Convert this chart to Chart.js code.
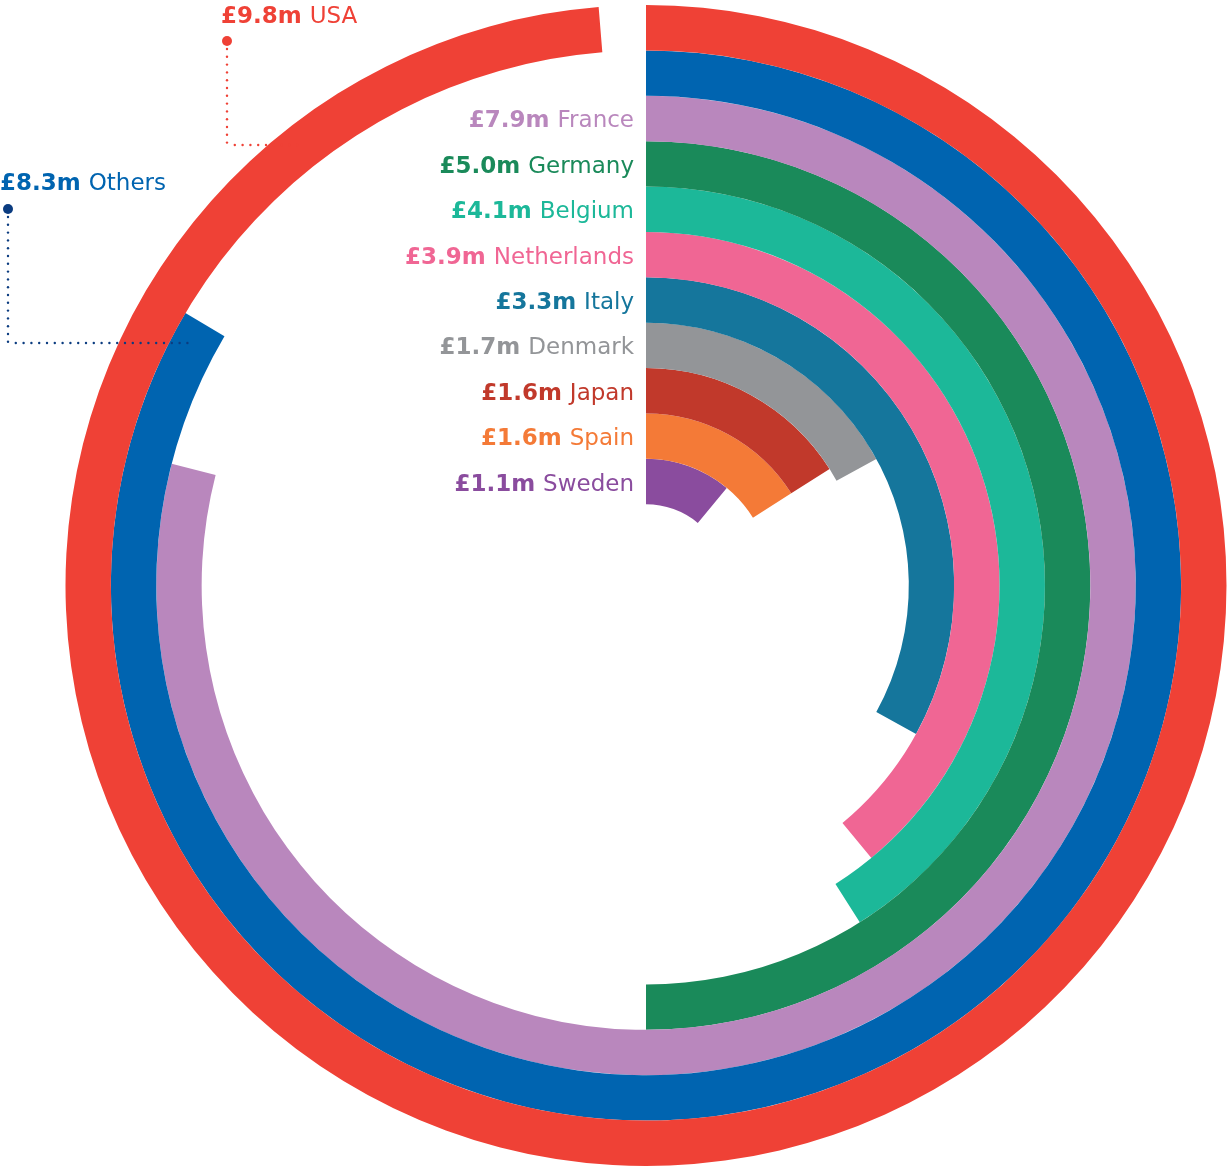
<!DOCTYPE html>
<html lang="en">
<head>
  <meta charset="UTF-8">
  <title>Revenue by country</title>
  <script src="https://cdn.jsdelivr.net/npm/chart.js"></script>
  <style>
    body { margin: 0; background: #fff; }
    #ringChart { display: block; }
  </style>
</head>
<body>
  <canvas id="ringChart" width="1230" height="1167"></canvas>

  <script>
    // outermost ring first
    const countries = ["USA", "Others", "France", "Germany", "Belgium", "Netherlands", "Italy", "Denmark", "Japan", "Spain", "Sweden"];
    const amounts = [9.87, 8.35, 7.9, 5.0, 4.1, 3.9, 3.3, 1.7, 1.6, 1.6, 1.1];   // £m
    const ringColors = ["#ef4136", "#0064b0", "#b987bd", "#1a8a5a", "#1cb899", "#f06694", "#15769c", "#939598", "#c1392b", "#f47a37", "#8a4c9e"];
    const fullCircle = 10;   // £10m = one full turn

    const fontFamily = "'DejaVu Sans', sans-serif";

    function money(v) {
      return "£" + (Math.floor(v * 10 + 1e-6) / 10).toFixed(1) + "m";
    }

    const datasets = countries.map((name, i) => ({
      label: name,
      data: [amounts[i], fullCircle - amounts[i]],
      backgroundColor: [ringColors[i], "rgba(0,0,0,0)"],
      borderWidth: 0,
      hoverOffset: 0
    }));

    // draws the country labels, and the leader lines for the two outer rings
    const ringLabels = {
      id: "ringLabels",
      afterDraw(chart) {
        const ctx = chart.ctx;
        ctx.save();
        ctx.textBaseline = "middle";

        chart.data.datasets.forEach((ds, i) => {
          const arc = chart.getDatasetMeta(i).data[0];
          const cx = arc.x, cy = arc.y;
          const rMid = (arc.outerRadius + arc.innerRadius) / 2;
          const color = ringColors[i];
          const amountText = money(amounts[i]) + " ";

          let x, y, align;
          if (i < 2) {
            // outer rings: label sits outside, with a dotted leader
            const spot = i === 0 ? { x: 221, y: 17, dotX: 227, dotY: 41, lineY: 145, dot: "#ef4136" }
                                 : { x: 0, y: 184, dotX: 8, dotY: 209, lineY: 343, dot: "#0b3c80" };
            x = spot.x; y = spot.y; align = "left";

            const dy = spot.lineY - cy;
            const endX = cx - Math.sqrt(rMid * rMid - dy * dy);
            ctx.fillStyle = spot.dot;
            ctx.beginPath();
            ctx.arc(spot.dotX, spot.dotY, 5, 0, Math.PI * 2);
            ctx.fill();
            for (let py = spot.dotY + 8; py <= spot.lineY; py += 7.8) {
              ctx.beginPath(); ctx.arc(spot.dotX, py, 1.2, 0, Math.PI * 2); ctx.fill();
            }
            for (let px = spot.dotX + 7.8; px <= endX; px += 7.8) {
              ctx.beginPath(); ctx.arc(px, spot.lineY, 1.2, 0, Math.PI * 2); ctx.fill();
            }
          } else {
            x = cx - 12; y = cy - rMid + 3; align = "right";
          }

          const boldFont = "bold 23px " + fontFamily;
          const plainFont = "23px " + fontFamily;
          ctx.font = boldFont;
          const wBold = ctx.measureText(amountText).width;
          ctx.font = plainFont;
          const wName = ctx.measureText(countries[i]).width;
          const left = align === "left" ? x : x - wBold - wName;

          ctx.fillStyle = color;
          ctx.textAlign = "left";
          ctx.font = boldFont;
          ctx.fillText(amountText, left, y);
          ctx.font = plainFont;
          ctx.fillText(countries[i], left + wBold, y);
        });
        ctx.restore();
      }
    };

    new Chart(document.getElementById("ringChart"), {
      type: "doughnut",
      data: { labels: ["value", "rest"], datasets: datasets },
      options: {
        responsive: false,
        animation: false,
        cutout: "14%",
        rotation: 0,
        circumference: 360,
        layout: { padding: { left: 65, right: 3, top: 5, bottom: 1 } },
        plugins: {
          legend: { display: false },
          tooltip: { enabled: false }
        }
      },
      plugins: [ringLabels]
    });
  </script>
</body>
</html>
